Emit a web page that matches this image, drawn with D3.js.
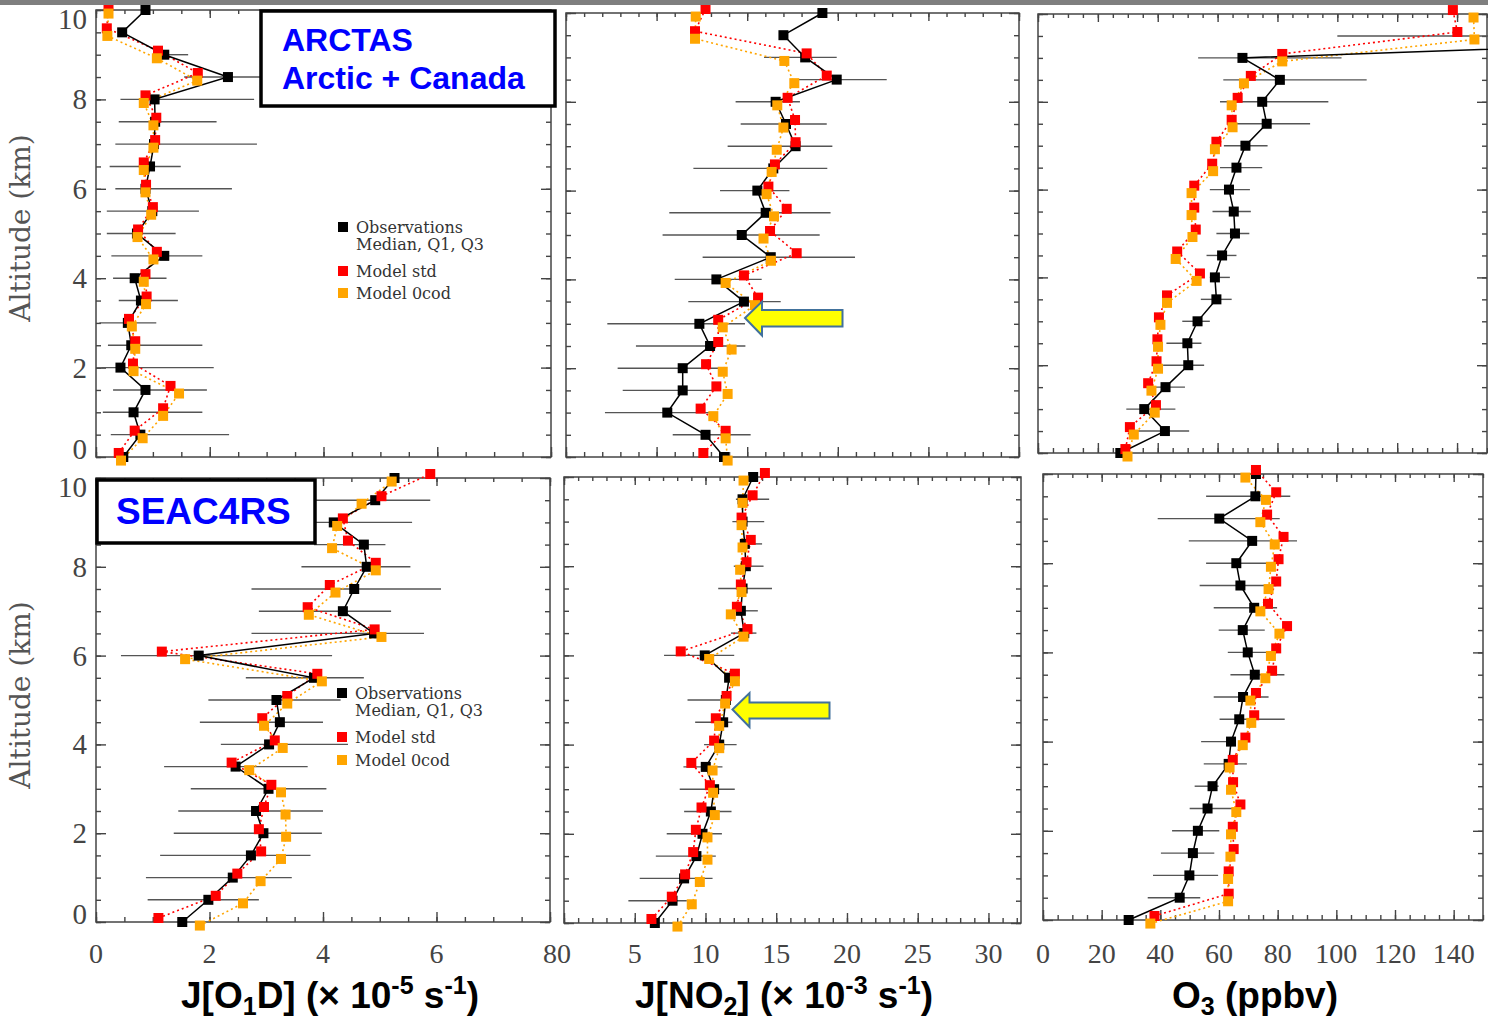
<!DOCTYPE html>
<html>
<head>
<meta charset="utf-8">
<script src="https://cdn.jsdelivr.net/npm/d3@7"></script>
<style>
  body { margin: 0; background: #fff; }
  svg { display: block; }
</style>
</head>
<body>
<svg id="chart"></svg>
<script>
// Altitude bins (km), shared by all six panels
const altitudes = [0, 0.5, 1, 1.5, 2, 2.5, 3, 3.5, 4, 4.5, 5, 5.5, 6, 6.5, 7, 7.5, 8, 8.5, 9, 9.5, 10];

// ARCTAS, J[O1D] (x 1e-5 s-1)
const arctasJO1D_obs  = [0.48, 0.78, 0.66, 0.87, 0.43, 0.62, 0.56, 0.79, 0.68, 1.20, 0.72, 0.99, 0.87, 0.95, 1.02, 1.04, 1.03, 2.32, 1.20, 0.46, 0.87];
const arctasJO1D_q1   = [null, 0.26, 0.12, 0.30, 0.09, 0.21, 0.06, 0.40, 0.30, 0.27, 0.19, 0.19, 0.34, 0.24, 0.34, 0.40, 0.43, 1.55, 1.09, null, null];
const arctasJO1D_q3   = [null, 2.34, 1.87, 1.95, 2.07, 1.87, 1.06, 1.44, 1.24, 1.87, 1.40, 1.81, 2.39, 1.49, 2.83, 2.12, 2.78, 2.90, 1.62, null, null];
const arctasJO1D_std  = [0.40, 0.68, 1.18, 1.31, 0.65, 0.69, 0.58, 0.89, 0.87, 1.07, 0.74, 1.00, 0.88, 0.84, 1.04, 1.06, 0.87, 1.79, 1.09, 0.19, 0.22];
const arctasJO1D_ocod = [0.44, 0.82, 1.18, 1.46, 0.66, 0.69, 0.63, 0.88, 0.84, 1.01, 0.73, 0.97, 0.87, 0.84, 1.01, 1.01, 0.84, 1.78, 1.07, 0.20, 0.22];

// ARCTAS, J[NO2] (x 1e-3 s-1)
const arctasJNO2_obs  = [8.72, 7.70, 5.59, 6.44, 6.44, 7.95, 7.36, 9.82, 8.30, 11.30, 9.70, 11.02, 10.56, 11.44, 12.67, 12.14, 11.57, 14.94, 13.20, 12.00, 14.15];
const arctasJNO2_q1   = [null, 5.89, 2.15, 3.13, 2.85, 3.86, 2.28, 6.75, 6.00, 7.54, 5.33, 5.70, 8.50, 7.03, 8.92, 9.64, 9.36, 12.40, 10.93, null, null];
const arctasJNO2_q3   = [null, 10.19, 8.04, 8.50, 8.63, 9.90, 9.88, 11.85, 10.80, 15.95, 14.00, 14.60, 12.33, 14.42, 14.70, 14.39, 12.91, 17.70, 14.94, null, null];
const arctasJNO2_std  = [7.58, 8.81, 7.43, 8.30, 7.73, 8.40, 8.40, 10.60, 9.82, 12.73, 11.26, 12.18, 11.17, 11.53, 12.67, 12.64, 12.23, 14.39, 13.28, 7.12, 7.70];
const arctasJNO2_ocod = [8.92, 8.81, 8.13, 8.92, 8.65, 9.14, 8.65, 10.43, 8.81, 11.31, 10.90, 11.48, 11.07, 11.35, 11.63, 12.00, 11.66, 12.60, 12.05, 7.12, 7.16];

// ARCTAS, O3 (ppbv); the two top observations lie far off the right edge
const arctasO3_obs  = [27.5, 42.4, 35.5, 42.6, 50.2, 49.9, 53.3, 59.6, 59.1, 61.5, 65.8, 65.4, 63.8, 66.3, 69.3, 76.4, 74.9, 80.8, 68.3, 275, 290];
const arctasO3_q1   = [null, 32.6, 29.5, 37.9, 41.8, 42.9, 48.2, 54.4, 57.4, 56.3, 59.6, 58.3, 57.4, 60.8, 62.1, 66.3, 60.8, 61.9, 53.5, 100, null];
const arctasO3_q3   = [null, 50.5, 45.9, 49.1, 55.5, 54.6, 57.4, 64.7, 64.1, 66.3, 70.6, 71.1, 70.8, 74.9, 76.7, 90.9, 97.0, 109.8, 101.4, 320, null];
const arctasO3_std  = [29.2, 30.7, 39.4, 36.8, 39.6, 39.9, 40.4, 43.1, 54.1, 46.5, 52.7, 52.2, 52.2, 58.2, 59.6, 64.7, 66.7, 71.1, 81.6, 140.1, 138.6];
const arctasO3_ocod = [29.9, 32.0, 39.0, 37.9, 40.1, 40.1, 40.9, 43.1, 53.0, 46.0, 51.6, 51.3, 51.3, 58.5, 59.1, 65.0, 64.7, 68.8, 81.6, 145.8, 145.5];

// SEAC4RS, J[O1D]
const seacJO1D_obs  = [1.52, 1.98, 2.41, 2.73, 2.95, 2.82, 3.04, 2.46, 3.05, 3.24, 3.18, 3.84, 1.81, 4.90, 4.35, 4.55, 4.77, 4.72, 4.19, 4.92, 5.26];
const seacJO1D_q1   = [null, 0.91, 0.88, 1.13, 1.37, 1.45, 1.67, 1.20, 2.20, 1.83, 1.98, 2.64, 0.44, 2.74, 2.87, 2.74, 3.62, 3.84, 3.84, 3.84, null];
const seacJO1D_q3   = [null, 2.87, 3.45, 3.78, 3.98, 4.00, 4.06, 3.73, 4.44, 4.00, 4.31, 4.72, 4.16, 5.78, 5.20, 6.08, 5.54, 5.10, 5.57, 5.89, null];
const seacJO1D_std  = [1.10, 2.11, 2.49, 2.91, 2.87, 2.96, 3.09, 2.39, 3.15, 2.93, 3.37, 3.90, 1.16, 4.91, 3.73, 4.12, 4.93, 4.44, 4.35, 5.03, 5.89];
const seacJO1D_ocod = [1.83, 2.59, 2.90, 3.26, 3.35, 3.34, 3.26, 2.70, 3.29, 2.96, 3.37, 3.98, 1.57, 5.03, 3.75, 4.22, 4.93, 4.16, 4.25, 4.68, 5.21];

// SEAC4RS, J[NO2]
const seacJNO2_obs  = [6.42, 7.67, 8.49, 9.36, 9.79, 10.38, 10.61, 10.02, 10.97, 11.25, 11.44, 11.67, 9.95, 12.74, 12.50, 12.62, 12.85, 12.78, 12.62, 12.62, 13.37];
const seacJNO2_q1   = [null, 4.55, 5.35, 6.49, 7.26, 8.49, 8.18, 8.44, 9.90, 9.27, 8.73, 11.50, 7.07, 11.80, 12.20, 10.90, 12.00, 12.60, 11.90, 12.15, null];
const seacJNO2_q3   = [null, 8.68, 10.50, 10.73, 11.16, 11.84, 12.07, 11.20, 12.20, 11.90, 11.67, 12.40, 12.03, 13.60, 13.70, 14.70, 14.10, 14.00, 14.15, 14.50, null];
const seacJNO2_std  = [6.18, 7.62, 8.56, 9.13, 9.32, 9.72, 10.31, 9.00, 10.61, 10.73, 11.49, 12.08, 8.25, 12.97, 12.22, 12.50, 12.90, 13.20, 12.55, 13.33, 14.20];
const seacJNO2_ocod = [8.02, 9.03, 9.60, 10.14, 10.14, 10.66, 10.54, 10.50, 10.97, 10.97, 11.39, 12.08, 10.26, 12.69, 11.79, 12.55, 12.45, 12.62, 12.55, 12.62, 12.69];

// SEAC4RS, O3
const seacO3_obs  = [29.2, 46.6, 49.9, 51.1, 52.8, 56.1, 57.8, 63.3, 64.1, 66.9, 68.2, 72.2, 69.8, 68.1, 72.0, 67.3, 65.9, 71.3, 60.1, 72.4, 72.6];
const seacO3_q1   = [null, 35.7, 37.5, 40.2, 44.0, 50.0, 51.7, 54.8, 53.9, 60.2, 58.2, 63.9, 63.0, 59.9, 58.2, 53.4, 55.6, 49.7, 39.1, 55.6, null];
const seacO3_q3   = [null, 53.6, 59.7, 58.4, 60.1, 65.0, 59.9, 69.5, 65.0, 82.4, 76.9, 82.3, 79.2, 75.6, 79.8, 79.5, 79.8, 86.6, 80.7, 84.3, null];
const seacO3_std  = [38.0, 63.3, 63.3, 65.0, 64.7, 67.3, 64.8, 64.7, 69.0, 72.0, 72.6, 78.1, 79.5, 83.2, 76.7, 79.5, 80.3, 82.0, 76.4, 79.5, 72.6];
const seacO3_ocod = [36.6, 63.1, 63.1, 63.9, 64.1, 65.9, 64.1, 63.6, 68.1, 71.0, 70.7, 75.8, 77.7, 80.6, 74.1, 76.9, 77.7, 79.0, 74.1, 76.0, 69.0];

// x tick labels under the bottom row
const jo1dTicks = [0, 2, 4, 6, 8];
const jno2Ticks = [0, 5, 10, 15, 20, 25, 30];
const o3Ticks = [0, 20, 40, 60, 80, 100, 120, 140];
const altTicks = [0, 2, 4, 6, 8, 10];

const svgWidth = 1488;
const svgHeight = 1023;
const svg = d3.select("#chart").attr("width", svgWidth).attr("height", svgHeight);

const red = "#ff0000";
const orange = "#ffa500";
const axisColor = "#444";
const serif = "'Liberation Serif', 'DejaVu Serif', serif";
const sans = "'Liberation Sans', Arial, sans-serif";

// model markers are nudged a little up (std) and down (0cod)
const stdShift = 0.09;
const ocodShift = -0.08;
const sq = 10;

const panels = [
  { obs: arctasJO1D_obs, q1: arctasJO1D_q1, q3: arctasJO1D_q3, std: arctasJO1D_std, ocod: arctasJO1D_ocod,
    left: 96, right: 551, top: 10, bottom: 457, xMax: 8, minor: 0.5, major: 2, yLabels: true },
  { obs: arctasJNO2_obs, q1: arctasJNO2_q1, q3: arctasJNO2_q3, std: arctasJNO2_std, ocod: arctasJNO2_ocod,
    left: 566, right: 1019, top: 13, bottom: 457, xMax: 25, minor: 1, major: 5 },
  { obs: arctasO3_obs, q1: arctasO3_q1, q3: arctasO3_q3, std: arctasO3_std, ocod: arctasO3_ocod,
    left: 1038, right: 1487, top: 14, bottom: 453, xMax: 150, minor: 5, major: 20 },
  { obs: seacJO1D_obs, q1: seacJO1D_q1, q3: seacJO1D_q3, std: seacJO1D_std, ocod: seacJO1D_ocod,
    left: 96, right: 550, top: 478, bottom: 922, xMax: 8, minor: 0.5, major: 2, yLabels: true, xLabels: jo1dTicks },
  { obs: seacJNO2_obs, q1: seacJNO2_q1, q3: seacJNO2_q3, std: seacJNO2_std, ocod: seacJNO2_ocod,
    left: 564, right: 1021, top: 477, bottom: 923, xMax: 32.3, minor: 1, major: 5, xLabels: jno2Ticks },
  { obs: seacO3_obs, q1: seacO3_q1, q3: seacO3_q3, std: seacO3_std, ocod: seacO3_ocod,
    left: 1043, right: 1483, top: 474, bottom: 920, xMax: 150, minor: 5, major: 20, xLabels: o3Ticks }
];

function addTicks(g, axis, tx, ty) {
  g.append("g")
    .attr("transform", `translate(${tx},${ty})`)
    .call(axis.tickFormat(""))
    .call(s => s.select(".domain").remove())
    .call(s => s.selectAll("text").remove())
    .selectAll("line")
    .attr("stroke", axisColor)
    .attr("stroke-width", 1.4);
}

panels.forEach(p => {
  const x = d3.scaleLinear().domain([0, p.xMax]).range([p.left, p.right]);
  const y = d3.scaleLinear().domain([0, 10]).range([p.bottom, p.top]);
  const g = svg.append("g");

  const rows = altitudes.map((a, i) => ({
    alt: a, obs: p.obs[i], q1: p.q1[i], q3: p.q3[i], std: p.std[i], ocod: p.ocod[i]
  }));

  // frame
  g.append("rect")
    .attr("x", p.left).attr("y", p.top)
    .attr("width", p.right - p.left).attr("height", p.bottom - p.top)
    .attr("fill", "none").attr("stroke", axisColor).attr("stroke-width", 1.5);

  // ticks on all four sides, pointing inward
  const yMinor = d3.range(0, 10.001, 0.5);
  const xMinor = d3.range(0, p.xMax + 1e-6, p.minor);
  const xMajor = d3.range(0, p.xMax + 1e-6, p.major);
  addTicks(g, d3.axisLeft(y).tickValues(yMinor).tickSize(-5), p.left, 0);
  addTicks(g, d3.axisLeft(y).tickValues(altTicks).tickSize(-10), p.left, 0);
  addTicks(g, d3.axisRight(y).tickValues(yMinor).tickSize(-5), p.right, 0);
  addTicks(g, d3.axisRight(y).tickValues(altTicks).tickSize(-10), p.right, 0);
  addTicks(g, d3.axisBottom(x).tickValues(xMinor).tickSize(-5), 0, p.bottom);
  addTicks(g, d3.axisBottom(x).tickValues(xMajor).tickSize(-10), 0, p.bottom);
  addTicks(g, d3.axisTop(x).tickValues(xMinor).tickSize(-4), 0, p.top);
  addTicks(g, d3.axisTop(x).tickValues(xMajor).tickSize(-8), 0, p.top);

  if (p.yLabels) {
    g.selectAll(".ylab")
      .data(altTicks)
      .enter()
      .append("text")
      .attr("x", p.left - 9)
      .attr("y", d => Math.min(Math.max(y(d), p.top + 9), p.bottom - 8))
      .attr("text-anchor", "end")
      .attr("dominant-baseline", "central")
      .attr("font-family", serif)
      .attr("font-size", 29)
      .attr("fill", "#444")
      .text(d => d);
  }

  if (p.xLabels) {
    g.selectAll(".xlab")
      .data(p.xLabels)
      .enter()
      .append("text")
      .attr("x", d => x(d))
      .attr("y", 953)
      .attr("text-anchor", "middle")
      .attr("dominant-baseline", "central")
      .attr("font-family", serif)
      .attr("font-size", 28)
      .attr("fill", "#444")
      .text(d => d);
  }

  // Q1-Q3 bars of the observations
  g.selectAll(".whisker")
    .data(rows.filter(d => d.q1 != null))
    .enter()
    .append("line")
    .attr("x1", d => x(d.q1))
    .attr("x2", d => x(d.q3))
    .attr("y1", d => y(d.alt))
    .attr("y2", d => y(d.alt))
    .attr("stroke", "#555")
    .attr("stroke-width", 1.4);

  // dotted model profiles
  [["std", red, stdShift], ["ocod", orange, ocodShift]].forEach(([key, color, shift]) => {
    g.append("path")
      .datum(rows)
      .attr("d", d3.line().x(d => x(d[key])).y(d => y(d.alt + shift)))
      .attr("fill", "none")
      .attr("stroke", color)
      .attr("stroke-width", 1.6)
      .attr("stroke-dasharray", "2,3");
  });

  // observed median profile
  g.append("path")
    .datum(rows)
    .attr("d", d3.line().x(d => x(d.obs)).y(d => y(d.alt)))
    .attr("fill", "none")
    .attr("stroke", "#000")
    .attr("stroke-width", 1.5);

  // squares: observations, then model std, then model 0cod on top
  [["obs", "#000", 0], ["std", red, stdShift], ["ocod", orange, ocodShift]].forEach(([key, color, shift]) => {
    g.selectAll(".sq-" + key)
      .data(rows)
      .enter()
      .append("rect")
      .attr("x", d => x(d[key]) - sq / 2)
      .attr("y", d => y(d.alt + shift) - sq / 2)
      .attr("width", sq)
      .attr("height", sq)
      .attr("fill", color);
  });
});

// legends
function legend(x0, yObs, yMed, yStd, yOcod) {
  const items = [
    { y: yObs, color: "#000", label: "Observations" },
    { y: yMed, color: null, label: "Median, Q1, Q3" },
    { y: yStd, color: red, label: "Model std" },
    { y: yOcod, color: orange, label: "Model 0cod" }
  ];
  items.forEach(it => {
    if (it.color) {
      svg.append("rect")
        .attr("x", x0 - 5).attr("y", it.y - 5)
        .attr("width", 10).attr("height", 10)
        .attr("fill", it.color);
    }
    svg.append("text")
      .attr("x", x0 + 13).attr("y", it.y)
      .attr("dominant-baseline", "central")
      .attr("font-family", "'DejaVu Serif', serif")
      .attr("font-size", 16)
      .attr("fill", "#333")
      .text(it.label);
  });
}
legend(343, 227, 244, 271, 293);
legend(342, 693, 710, 737, 760);

// campaign boxes
svg.append("rect")
  .attr("x", 261).attr("y", 11).attr("width", 294).attr("height", 95)
  .attr("fill", "#fff").attr("stroke", "#000").attr("stroke-width", 3.5);
svg.append("text")
  .attr("x", 282).attr("y", 51)
  .attr("font-family", sans).attr("font-weight", "bold").attr("font-size", 32)
  .attr("fill", "#0000ff").text("ARCTAS");
svg.append("text")
  .attr("x", 282).attr("y", 89)
  .attr("font-family", sans).attr("font-weight", "bold").attr("font-size", 32)
  .attr("fill", "#0000ff").text("Arctic + Canada");

svg.append("rect")
  .attr("x", 97).attr("y", 480).attr("width", 218).attr("height", 63)
  .attr("fill", "#fff").attr("stroke", "#000").attr("stroke-width", 3.5);
svg.append("text")
  .attr("x", 116).attr("y", 524)
  .attr("font-family", sans).attr("font-weight", "bold").attr("font-size", 37)
  .attr("fill", "#0000ff").text("SEAC4RS");

// yellow arrows
const arrowTop = "M745,318 L762,301.5 L762,310 L842.5,310 L842.5,326.5 L762,326.5 L762,335.5 Z";
const arrowBottom = "M732.5,709.5 L749.5,693 L749.5,702.5 L829.5,702.5 L829.5,718.5 L749.5,718.5 L749.5,727 Z";
[arrowTop, arrowBottom].forEach(d => {
  svg.append("path")
    .attr("d", d)
    .attr("fill", "#ffff00")
    .attr("stroke", "#41719c")
    .attr("stroke-width", 2);
});

// y axis titles
[228, 695].forEach(cy => {
  svg.append("text")
    .attr("transform", `translate(30, ${cy}) rotate(-90)`)
    .attr("text-anchor", "middle")
    .attr("font-family", "'DejaVu Serif', serif")
    .attr("font-size", 28)
    .attr("fill", "#555")
    .text("Altitude (km)");
});

// x axis titles with sub/superscripts
function title(cx, parts) {
  const t = svg.append("text")
    .attr("x", cx).attr("y", 1008)
    .attr("text-anchor", "middle")
    .attr("font-family", sans)
    .attr("font-weight", "bold")
    .attr("font-size", 37)
    .attr("fill", "#000");
  let back = 0;
  parts.forEach(([txt, kind]) => {
    const shift = kind === "sup" ? -14 : kind === "sub" ? 7 : 0;
    t.append("tspan")
      .attr("dy", back + shift)
      .attr("font-size", kind ? 25 : 37)
      .text(txt);
    back = -shift;
  });
}
title(330, [["J[O"], ["1", "sub"], ["D] (\u00d7 10"], ["-5", "sup"], [" s"], ["-1", "sup"], [")"]]);
title(784, [["J[NO"], ["2", "sub"], ["] (\u00d7 10"], ["-3", "sup"], [" s"], ["-1", "sup"], [")"]]);
title(1255, [["O"], ["3", "sub"], [" (ppbv)"]]);

// grey strip along the top edge
svg.append("rect")
  .attr("x", 0).attr("y", 0).attr("width", svgWidth).attr("height", 5)
  .attr("fill", "#7f7f7f");
</script>
</body>
</html>
